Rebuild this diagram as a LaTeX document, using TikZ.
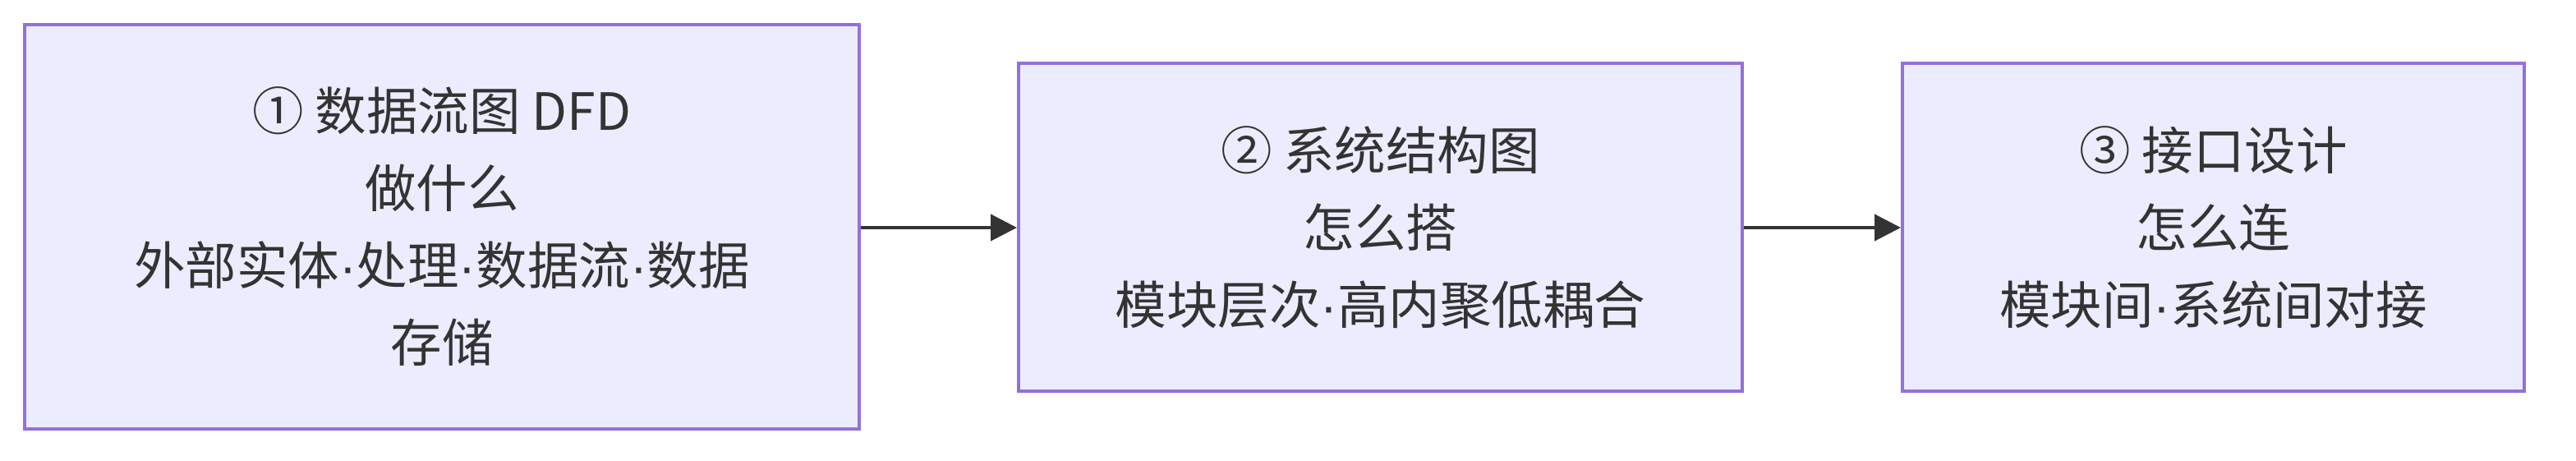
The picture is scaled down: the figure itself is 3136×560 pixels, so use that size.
\documentclass[tikz,border=0pt]{standalone}
\usepackage{fontspec}
\newfontfamily\cjk{Noto Sans CJK SC}
\newfontfamily\latinf{Liberation Sans}
\newcommand{\mdt}{{\latinf ·}}
\usetikzlibrary{arrows.meta}
\definecolor{boxfill}{HTML}{ECECFF}
\definecolor{boxline}{HTML}{9370DB}
\definecolor{ink}{HTML}{333333}
\begin{document}
\begin{tikzpicture}[x=1pt,y=1pt,
  stepbox/.style={draw=boxline, fill=boxfill, line width=4pt, inner sep=0pt,
    align=center, text=ink, font=\cjk\fontsize{62.5}{94}\selectfont},
  flow/.style={draw=ink, line width=4pt, -{Triangle[length=32pt,width=32pt]}}]
\useasboundingbox (0,0) rectangle (3136,560);
\node[stepbox, minimum width=1016pt, minimum height=492pt] (b1) at (538,284)
  {① 数据流图 DFD\\做什么\\外部实体\mdt 处理\mdt 数据流\mdt 数据\\存储};
\node[stepbox, minimum width=881pt, minimum height=398pt] (b2) at (1680.5,283.5)
  {② 系统结构图\\怎么搭\\模块层次\mdt 高内聚低耦合};
\node[stepbox, minimum width=757pt, minimum height=398pt] (b3) at (2694.5,283.5)
  {③ 接口设计\\怎么连\\模块间\mdt 系统间对接};
\draw[flow] (b1.east |- 0,283) -- (b2.west |- 0,283);
\draw[flow] (b2.east |- 0,283) -- (b3.west |- 0,283);
\end{tikzpicture}
\end{document}
